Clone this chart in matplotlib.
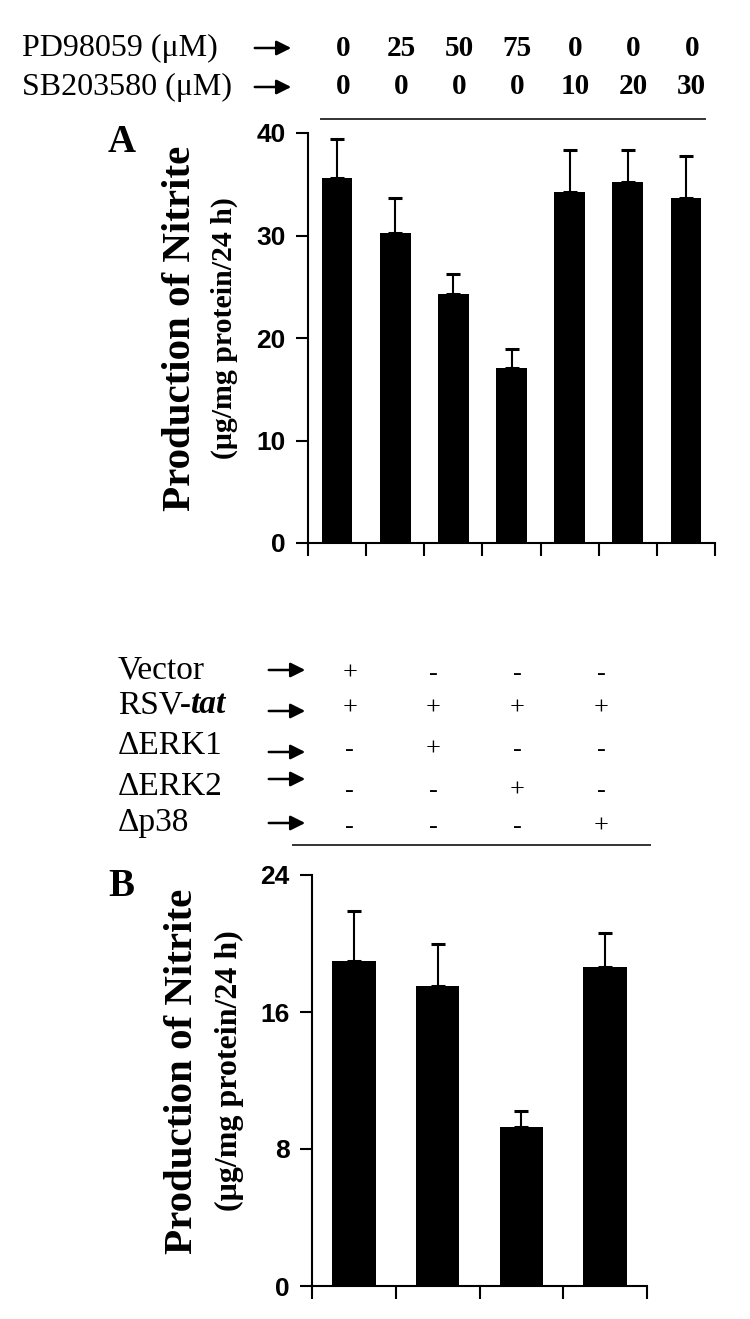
import numpy as np
import matplotlib
matplotlib.use('Agg')
import matplotlib.pyplot as plt
from matplotlib.transforms import blended_transform_factory
from matplotlib.patches import FancyArrowPatch

# panel A data
pd_conc = ['0', '25', '50', '75', '0', '0', '0']
sb_conc = ['0', '0', '0', '0', '10', '20', '30']
nitrite_a = [35.6, 30.2, 24.3, 17.1, 34.2, 35.2, 33.7]
err_a = [3.8, 3.5, 1.9, 1.8, 4.1, 3.1, 4.1]

# panel B data
rows_b = ['Vector', 'RSV-', '\u0394ERK1', '\u0394ERK2', '\u0394p38']
signs_b = [['+', '-', '-', '-'],
           ['+', '+', '+', '+'],
           ['-', '+', '-', '-'],
           ['-', '-', '+', '-'],
           ['-', '-', '-', '+']]
nitrite_b = [19.0, 17.5, 9.3, 18.6]
err_b = [2.9, 2.5, 0.9, 2.0]

W, H = 750, 1319
serif = ['Liberation Serif', 'DejaVu Serif']
narrow = ['Liberation Sans Narrow', 'Liberation Sans', 'DejaVu Sans']

def fx(px):
    return px / W

def fy(py):
    return 1 - py / H

fig = plt.figure(figsize=(7.5, 13.19), dpi=100)
axA = fig.add_axes([fx(308), fy(543), (715 - 308) / W, (543 - 133) / H])
axB = fig.add_axes([fx(312), fy(1286), (647 - 312) / W, (1286 - 875) / H])

def draw_panel(ax, vals, errs, width, yticks):
    n = len(vals)
    x = np.arange(n)
    ax.bar(x, vals, width=width, color='black', edgecolor='none', zorder=2)
    lower = np.zeros(n)
    ax.errorbar(x, vals, yerr=[lower, errs], fmt='none', ecolor='black',
                elinewidth=1.5, capsize=5, capthick=2.2, zorder=3)
    ax.set_xlim(-0.5, n - 0.5)
    ax.set_ylim(yticks[0], yticks[-1])
    ax.set_xticks(np.arange(n + 1) - 0.5)
    ax.set_xticklabels([])
    ax.set_yticks(yticks)
    ax.set_yticklabels([str(t) for t in yticks], family=narrow,
                       fontweight='bold', fontsize=19)
    for s in ['top', 'right']:
        ax.spines[s].set_visible(False)
    for s in ['left', 'bottom']:
        ax.spines[s].set_linewidth(1.5)
    ax.tick_params(axis='both', direction='out', length=9, width=1.5)
    ax.tick_params(axis='y', pad=7)

draw_panel(axA, nitrite_a, err_a, 0.53, [0, 10, 20, 30, 40])
draw_panel(axB, nitrite_b, err_b, 0.52, [0, 8, 16, 24])

# y labels
for ylab, ysub, yc, subsize in [(181, 224, 328, 21.5), (183, 229, 1071, 23)]:
    fig.text(fx(ylab), fy(yc), 'Production of Nitrite', rotation=90,
             ha='center', va='center', family=serif, fontweight='bold',
             fontsize=29.5)
    fig.text(fx(ysub), fy(yc), '(\u03bcg/mg protein/24 h)', rotation=90,
             ha='center', va='center', family=serif, fontweight='bold',
             fontsize=subsize)

# panel letters
fig.text(fx(122), fy(143), 'A', ha='center', va='center', family=serif,
         fontweight='bold', fontsize=28)
fig.text(fx(121), fy(886), 'B', ha='center', va='center', family=serif,
         fontweight='bold', fontsize=28)

def arrow(x0, x1, y):
    a = FancyArrowPatch((fx(x0), fy(y)), (fx(x1), fy(y)),
                        transform=fig.transFigure, arrowstyle='-|>',
                        mutation_scale=22, lw=1.8, color='black')
    fig.add_artist(a)

# panel A header
trA = blended_transform_factory(axA.transData, fig.transFigure)
for lab, vals, y in [('PD98059 (\u03bcM)', pd_conc, 48),
                     ('SB203580 (\u03bcM)', sb_conc, 87)]:
    fig.text(fx(22), fy(y), lab, ha='left', va='center', family=serif,
             fontsize=23)
    arrow(252, 294, y)
    for i, v in enumerate(vals):
        axA.text(i + 0.1, fy(y), v, transform=trA, ha='center', va='center',
                 family=serif, fontweight='bold', fontsize=21)
axA.plot([-0.28, 6.33], [fy(119), fy(119)], transform=trA, color='#333333',
         lw=1.4, clip_on=False)

# panel B header
trB = blended_transform_factory(axB.transData, fig.transFigure)
text_y = [670, 705, 746, 787, 823]
arrow_y = [670, 711, 752, 779, 823]
for r, lab in enumerate(rows_b):
    t = fig.text(fx(118), fy(text_y[r]), lab, ha='left', va='center',
                 family=serif, fontsize=24)
    if lab == 'RSV-':
        axB.annotate('tat', xy=(1, 0), xycoords=t, ha='left', va='bottom',
                     family=serif, fontweight='bold', fontstyle='italic',
                     fontsize=24, annotation_clip=False)
    arrow(266, 308, arrow_y[r])
    for c, s in enumerate(signs_b[r]):
        axB.text(c - 0.05, fy(text_y[r] + 4), s, transform=trB, ha='center',
                 va='center', family=serif, fontsize=19)
axB.plot([-0.727, 3.536], [fy(845), fy(845)], transform=trB, color='#333333',
         lw=1.4, clip_on=False)

fig.savefig('out.png', dpi=100)
